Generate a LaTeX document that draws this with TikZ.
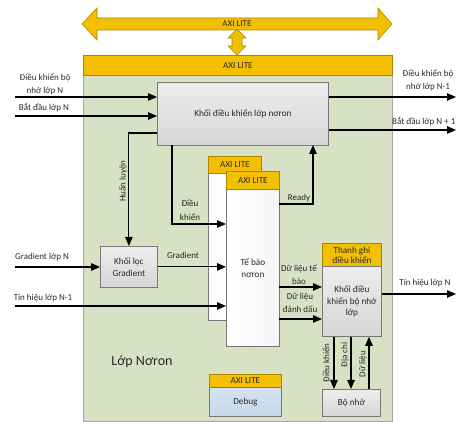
\documentclass[tikz,border=0pt]{standalone}
\usepackage{fontspec}
\setmainfont{Carlito}
\usetikzlibrary{arrows.meta,calc}
\definecolor{olivebg}{RGB}{216,225,196}
\definecolor{gold}{RGB}{242,192,0}
\definecolor{goldline}{RGB}{176,132,0}
\definecolor{blkline}{RGB}{120,120,120}
\definecolor{dbgblue}{RGB}{196,215,235}
\definecolor{txt}{RGB}{40,40,40}
\tikzset{
  box/.style={draw=blkline, line width=0.8pt, anchor=north west, inner sep=0pt, align=center, text=txt, font=\fontsize{9.2}{10.5}\selectfont},
  grayblk/.style={box, top color=gray!14, bottom color=gray!32},
  cellblk/.style={box, left color=white, right color=gray!8},
  hdr/.style={box, fill=gold, draw=goldline},
  arr/.style={line width=1.1pt, -{Triangle[length=9pt,width=7.5pt]}},
  lbl/.style={font=\fontsize{9}{13.5}\selectfont, text=txt, align=center, inner sep=0pt},
}
\begin{document}
\begin{tikzpicture}[x=1pt,y=-1pt]
\useasboundingbox (0,0) rectangle (456,422);
% bus arrows
\draw[fill=gold, draw=goldline, line width=0.6pt] (82,24) -- (97,8) -- (97,18) -- (378,18) -- (378,8) -- (392,24) -- (378,40) -- (378,30) -- (97,30) -- (97,40) -- cycle;
\node[lbl] (axitop) at (237,24) {AXI LITE};
\draw[fill=gold, draw=goldline, line width=0.6pt] (237,29) -- (246,38) -- (242,38) -- (242,46) -- (246,46) -- (237,55) -- (228,46) -- (232,46) -- (232,38) -- (228,38) -- cycle;
% outer
\node[box, fill=olivebg, draw=gray!70, minimum width=309, minimum height=366] (outer) at (83,55) {};
\node[hdr, minimum width=309, minimum height=20] (outerhdr) at (83,55) {AXI LITE};
% blocks
\node[grayblk, minimum width=171, minimum height=63] (ctrl) at (157,82) {Khối điều khiển lớp nơron};
\node[grayblk, minimum width=57, minimum height=41] (grad) at (100,246) {Khối lọc\\[1pt]Gradient};
\node[cellblk, minimum width=53, minimum height=147] (cellB) at (208,173) {};
\node[hdr, minimum width=53, minimum height=17] (cellBhdr) at (208,156) {AXI LITE};
\node[cellblk, minimum width=53, minimum height=157] (cellF) at (226,189) {Tế bào\\[1pt]nơron};
\node[hdr, minimum width=53, minimum height=18] (cellFhdr) at (226,171) {AXI LITE};
\node[hdr, minimum width=59, minimum height=23, font=\fontsize{9.2}{10}\selectfont] (memhdr) at (322,243) {Thanh ghi\\điều khiển};
\node[grayblk, minimum width=59, minimum height=70] (memctl) at (322,266) {Khối điều\\[1pt]khiển bộ nhớ\\[1pt]lớp};
\node[grayblk, minimum width=58, minimum height=27] (mem) at (322,389) {Bộ nhớ};
\node[hdr, minimum width=72, minimum height=13] (dbghdr) at (209,374) {AXI LITE};
\node[box, top color=dbgblue!70, bottom color=dbgblue, minimum width=72, minimum height=29] (dbg) at (209,387) {Debug};
\node[lbl, font=\fontsize{14}{16}\selectfont] (lopnoron) at (142,362) {Lớp Nơron};
% coordinates
\coordinate (inMem) at (15,97);
\coordinate (inStart) at (15,116);
\coordinate (outMem) at (456,97);
\coordinate (outStart) at (456,130);
\coordinate (hl) at (157,133);
\coordinate (dkTop) at (172,145);
\coordinate (dkEnd) at (226,224);
\coordinate (gin) at (15,267);
\coordinate (tin) at (15,306);
\coordinate (rdy) at (279,204);
\coordinate (rdyUp) at (313,145);
\coordinate (d1) at (279,287);
\coordinate (d2) at (279,319);
\coordinate (tout) at (456,294);
\coordinate (m1) at (334,0);
\coordinate (m2) at (351,0);
\coordinate (m3) at (369,0);
% connectors
\draw[arr] (inMem) -- (inMem -| ctrl.west);
\draw[arr] (inStart) -- (inStart -| ctrl.west);
\draw[arr] (outMem -| ctrl.east) -- (outMem);
\draw[arr] (outStart -| ctrl.east) -- (outStart);
\draw[arr] (hl) -| (grad.north);
\draw[arr] (dkTop) |- (dkEnd);
\draw[arr] (gin) -- (gin -| grad.west);
\draw[arr] (grad.east) -- (grad.east -| cellF.west);
\draw[arr] (tin) -- (tin -| cellF.west);
\draw[arr] (rdy) -| (rdyUp);
\draw[arr] (d1) -- (d1 -| memctl.west);
\draw[arr] (d2) -- (d2 -| memctl.west);
\draw[arr] (tout -| memctl.east) -- (tout);
\draw[arr] (memctl.south -| m1) -- (mem.north -| m1);
\draw[arr] (memctl.south -| m2) -- (mem.north -| m2);
\draw[arr] (mem.north -| m3) -- (memctl.south -| m3);
% labels
\node[lbl] (lInMem) at (45,84) {Điều khiển bộ\\nhớ lớp N};
\node[lbl] (lInStart) at (44,108) {Bắt đầu lớp N};
\node[lbl] (lOutMem) at (428,80) {Điều khiển bộ\\nhớ lớp N-1};
\node[lbl, anchor=west] (lOutStart) at (392,122) {Bắt đầu lớp N + 1};
\node[lbl, rotate=90] (lHl) at (123,181) {Huấn luyện};
\node[lbl] (lDk) at (190,210) {Điều\\khiển};
\node[lbl] (lGrad) at (183,255) {Gradient};
\node[lbl] (lGin) at (42,257) {Gradient lớp N};
\node[lbl] (lTin) at (43,298) {Tín hiệu lớp N-1};
\node[lbl] (lRdy) at (299,198) {Ready};
\node[lbl] (lD1) at (299,274.5) {Dữ liệu tế\\bào};
\node[lbl] (lD2) at (300,303) {Dữ liệu\\đánh dấu};
\node[lbl] (lTout) at (425,283) {Tín hiệu lớp N};
\node[lbl, rotate=90] (lM1) at (326,363) {Điều khiển};
\node[lbl, rotate=90] (lM2) at (345,355) {Địa chỉ};
\node[lbl, rotate=90] (lM3) at (363,364) {Dữ liệu};
\end{tikzpicture}
\end{document}
